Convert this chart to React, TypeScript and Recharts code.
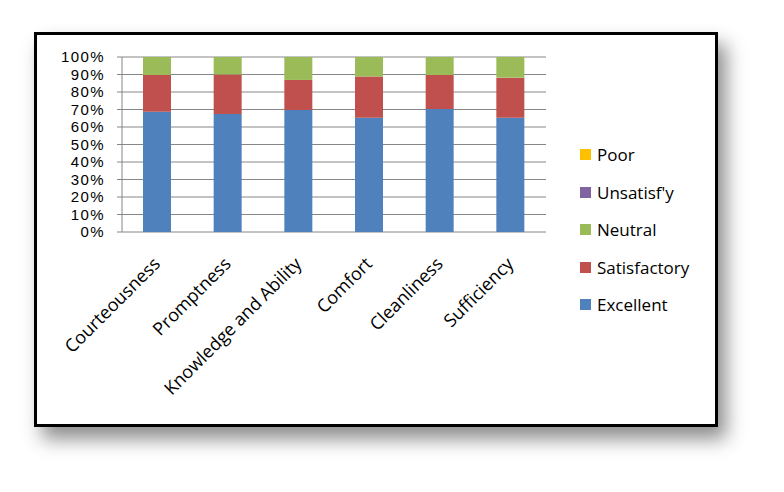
import React from "react";
import { BarChart, Bar, XAxis, YAxis, CartesianGrid } from "recharts";

const categories = ["Courteousness", "Promptness", "Knowledge and Ability", "Comfort", "Cleanliness", "Sufficiency"];
const excellent = [68.7, 67.4, 69.7, 65.3, 70.3, 65.3];
const satisfactory = [21.0, 22.6, 17.2, 23.5, 19.4, 22.9];
const neutral = [10.3, 10.0, 13.1, 11.2, 10.3, 11.8];
const unsatisfactory = [0, 0, 0, 0, 0, 0];
const poor = [0, 0, 0, 0, 0, 0];
const yTicks = [0, 10, 20, 30, 40, 50, 60, 70, 80, 90, 100];

const SERIES = [
  { key: "excellent", name: "Excellent", color: "#4F81BD" },
  { key: "satisfactory", name: "Satisfactory", color: "#C0504D" },
  { key: "neutral", name: "Neutral", color: "#9BBB59" },
  { key: "unsatisfactory", name: "Unsatisf'y", color: "#8064A2" },
  { key: "poor", name: "Poor", color: "#FFC000" },
];

const data = categories.map((name, i) => ({
  name,
  pos: i + 0.5,
  excellent: excellent[i],
  satisfactory: satisfactory[i],
  neutral: neutral[i],
  unsatisfactory: unsatisfactory[i],
  poor: poor[i],
}));

const FONT = "'Open Sans', sans-serif";

function XTick({ x, y, payload }: { x?: number; y?: number; payload?: { value: string } }) {
  const ax = (x ?? 0) + 4;
  const ay = (y ?? 0) + 25;
  return (
    <text
      x={ax}
      y={ay}
      transform={`rotate(-45, ${ax}, ${ay})`}
      textAnchor="end"
      fontSize={18}
      fontFamily={FONT}
      fill="#000"
    >
      {payload?.value}
    </text>
  );
}

// tight percent labels: 10% steps are only ~17px apart
function YTick({ x, y, payload }: { x?: number; y?: number; payload?: { value: number } }) {
  return (
    <text
      x={x}
      y={y}
      dy={5}
      textAnchor="end"
      fontSize={15}
      fontFamily="'Liberation Sans', Arial, sans-serif"
      fill="#000"
      letterSpacing={1.4}
    >
      {`${payload?.value}%`}
    </text>
  );
}

function SideLegend() {
  return (
    <div style={{ position: "absolute", left: 580, top: 136, fontFamily: FONT, fontSize: 17, color: "#000" }}>
      {[...SERIES].reverse().map((s) => (
        <div key={s.key} style={{ display: "flex", alignItems: "center", height: 37.5 }}>
          <span style={{ width: 11, height: 11, background: s.color, marginRight: 6 }} />
          <span>{s.name}</span>
        </div>
      ))}
    </div>
  );
}

export default function App() {
  return (
    <div style={{ position: "relative", width: 784, height: 492, margin: -8, background: "#fff", overflow: "hidden" }}>
      <div
        style={{
          position: "absolute",
          left: 34,
          top: 32,
          width: 678,
          height: 389,
          border: "3px solid #000",
          background: "#fff",
          boxShadow: "8px 12px 18px rgba(0,0,0,0.45)",
        }}
      />
      <div style={{ position: "absolute", left: 0, top: 0 }}>
        <BarChart
          width={784}
          height={492}
          data={data}
          margin={{ top: 57, right: 238, bottom: 160, left: 42 }}
          barSize={28}
        >
          <CartesianGrid vertical={false} stroke="#868686" strokeWidth={1} />
          <XAxis
            dataKey="name"
            xAxisId="cat"
            height={100}
            axisLine={false}
            tickLine={false}
            interval={0}
            tick={<XTick />}
          />
          <XAxis
            xAxisId="edge"
            dataKey="pos"
            type="number"
            domain={[0, 6]}
            ticks={[0, 1, 2, 3, 4, 5, 6]}
            interval={0}
            height={0}
            tick={false}
            tickSize={6}
            axisLine={{ stroke: "#868686" }}
            tickLine={{ stroke: "#868686" }}
          />
          <YAxis
            domain={[0, 100]}
            ticks={yTicks}
            interval={0}
            width={80}
            tick={<YTick />}
            tickSize={5}
            tickMargin={12}
            axisLine={{ stroke: "#868686" }}
            tickLine={{ stroke: "#868686" }}
          />
          {SERIES.map((s) => (
            <Bar key={s.key} dataKey={s.key} name={s.name} stackId="a" xAxisId="cat" fill={s.color} isAnimationActive={false} />
          ))}
        </BarChart>
      </div>
      <SideLegend />
    </div>
  );
}
